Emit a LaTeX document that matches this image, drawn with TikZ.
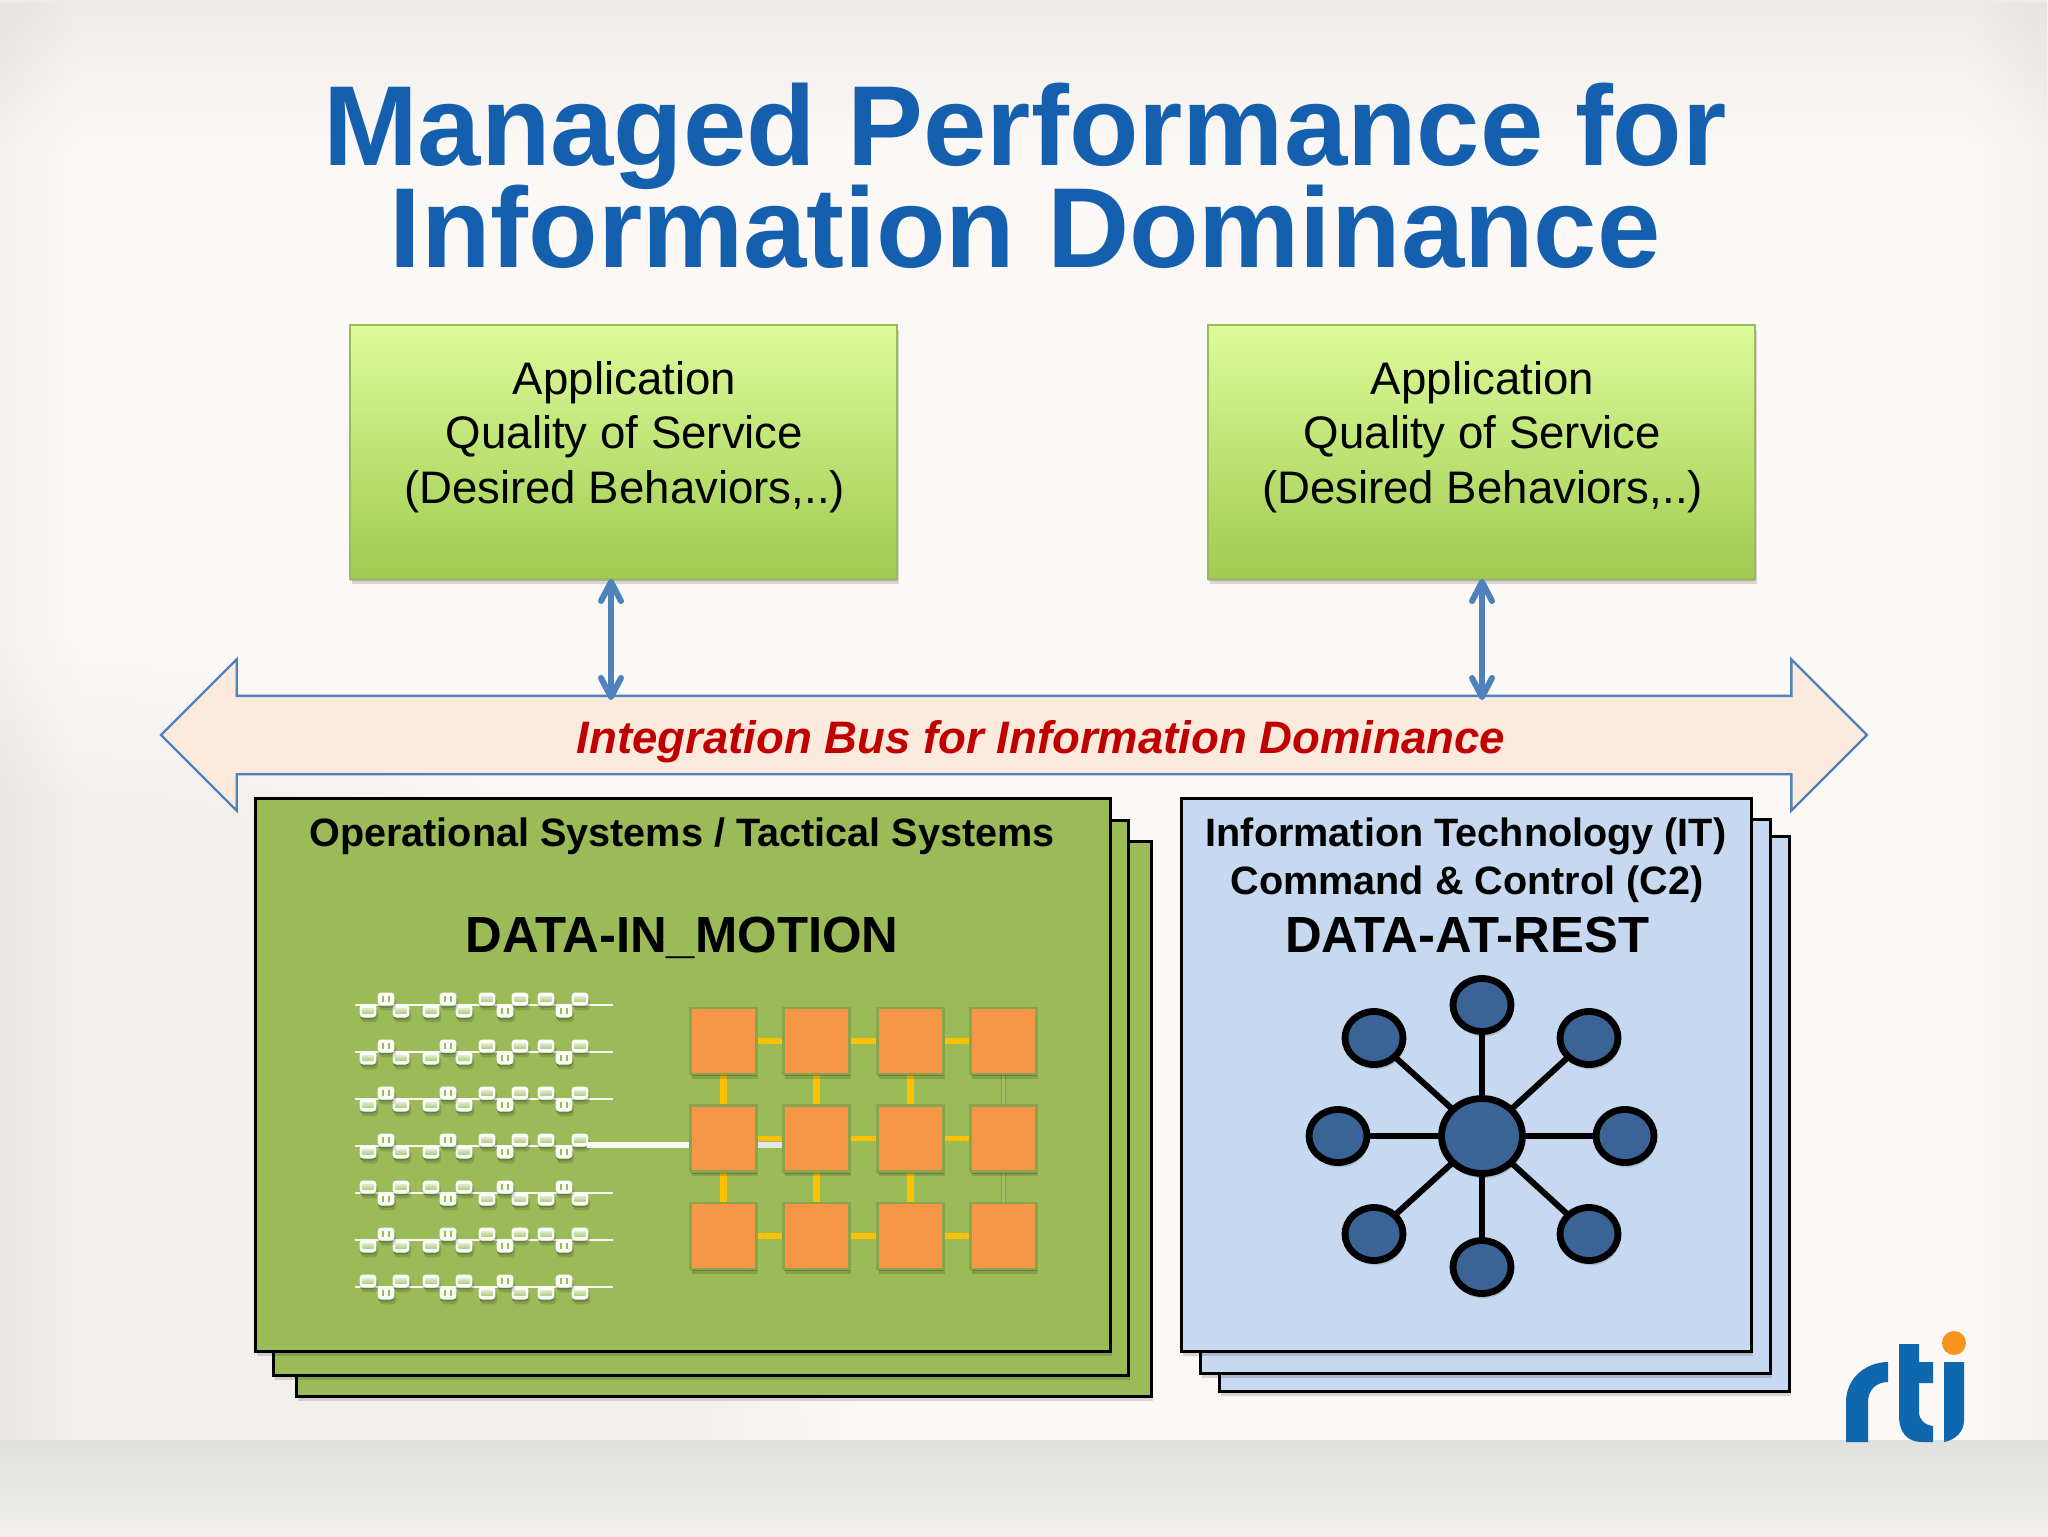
\documentclass[tikz,border=0pt]{standalone}
\usepackage{fontspec}
\setmainfont{Liberation Sans}
\usetikzlibrary{arrows.meta,shapes.arrows,shapes.geometric,shadows,fadings}
\lineskiplimit=-30pt
\definecolor{titleblue}{HTML}{1560AE}
\definecolor{linkblue}{HTML}{4F81BD}
\definecolor{busfill}{HTML}{FCEADC}
\definecolor{busred}{HTML}{C00000}
\definecolor{opgreen}{HTML}{9BBB59}
\definecolor{apptop}{HTML}{DCFB9A}
\definecolor{appbottom}{HTML}{A0CB50}
\definecolor{itblue}{HTML}{C6D9F0}
\definecolor{hubblue}{HTML}{3A6496}
\definecolor{sqorange}{HTML}{F79646}
\definecolor{sqlink}{HTML}{FFC000}
\definecolor{logoblue}{HTML}{0F68AD}
\definecolor{logoorange}{HTML}{F7941E}
\definecolor{paper}{HTML}{FBF8F6}
\definecolor{bandtop}{HTML}{E0E0DC}
\definecolor{bandbottom}{HTML}{F1F0EE}

\begin{document}
\begin{tikzpicture}[x=0.5pt,y=-0.5pt,
	  softshadow/.style={drop shadow={shadow xshift=0pt,shadow yshift=-1pt,opacity=.2,fill=black},
	    drop shadow={shadow xshift=.8pt,shadow yshift=-2.4pt,opacity=.14,fill=black}},
	  updown/.style={{Straight Barb[length=9.5pt,width=10pt,round]}-{Straight Barb[length=9.5pt,width=10pt,round]},draw=linkblue,line width=3pt},
	  every node/.append style={inner sep=0pt,outer sep=0pt}]
	  \tikzstyle{title} = [font=\fontsize{56.9}{51}\selectfont\bfseries,color=titleblue,align=center]
	  \tikzstyle{appbox} = [draw=opgreen,line width=1.4pt,top color=apptop,bottom color=appbottom,minimum width=273.5pt,minimum height=127pt,softshadow]
	  \tikzstyle{apptext} = [font=\fontsize{22.8}{27.25}\selectfont,align=center]
	  \tikzstyle{sheet} = [draw=black,line width=1.5pt,anchor=north west,softshadow]
	  \tikzstyle{opsheet} = [sheet,fill=opgreen,minimum width=427.5pt]
	  \tikzstyle{itsheet} = [sheet,fill=itblue,minimum width=285pt]
	  \tikzstyle{head} = [font=\fontsize{19.8}{24}\selectfont\bfseries,anchor=base]
	  \tikzstyle{big} = [font=\fontsize{25.4}{28}\selectfont\bfseries,anchor=base]
	  \tikzstyle{sq} = [fill=sqorange,draw=black!12!opgreen,line width=1.4pt,minimum width=33pt,minimum height=33pt,softshadow]
	  \tikzstyle{chip} = [fill=white!96!opgreen,rounded corners=1.8pt,minimum width=8.4pt,minimum height=6.5pt,softshadow]
	  \tikzstyle{chipband} = [top color=opgreen!30!white,bottom color=opgreen!80!white,minimum width=5.6pt,minimum height=2.8pt]
	  \tikzstyle{chiptick} = [fill=opgreen,minimum width=1pt,minimum height=3pt]
	  \tikzstyle{hub} = [ellipse,fill=hubblue,draw=black,line width=3.4pt,softshadow]
	  \useasboundingbox (0,0) rectangle (2048,1536);

	  % paper
	  \fill [paper] (0,0) rectangle (2048,1536);
	  \fill [black,opacity=.05,path fading=south] (0,0) rectangle (2048,150);
	  \fill [black,opacity=.03,path fading=east] (0,0) rectangle (80,1536);
	  \fill [black,opacity=.03,path fading=west] (1968,0) rectangle (2048,1536);
	  \fill [black,opacity=.035,path fading=circle with fuzzy edge 20 percent] (60,1440) circle [radius=800];
	  \shade [top color=bandtop,bottom color=bandbottom] (0,1440) rectangle (2048,1536);

	  \node (title_1) [title] at (1025,175.5) {Managed Performance for\\Information Dominance};

	  \node (app_1) [appbox] at (623.5,452) {};
	  \node (app_2) [appbox] at (1481.5,452) {};
	  \node (apptext_1) [apptext] at (624.5,437) {Application\\Quality of Service\\(Desired Behaviors,..)};
	  \node (apptext_2) [apptext] at (1482.5,437) {Application\\Quality of Service\\(Desired Behaviors,..)};

	  \node (bus) [double arrow,draw=linkblue,fill=busfill,line width=1.2pt,minimum height=853pt,minimum width=74.5pt,
	    double arrow head extend=18.25pt,inner ysep=19pt] at (1014,735) {};
	  \node (bustext) [font=\fontsize{22.76}{26}\selectfont\bfseries\itshape,color=busred,anchor=base] at (1041,753) {Integration Bus for Information Dominance};
	  \coordinate (drop_1) at (611,700);
	  \coordinate (drop_2) at (1482,700);
	  \draw [updown] (app_1.south -| drop_1) -- (drop_1);
	  \draw [updown] (app_2.south -| drop_2) -- (drop_2);

	  \node (op_3) [opsheet,minimum height=277.5pt] at (296,841) {};
	  \node (op_2) [opsheet,minimum height=277.5pt] at (273,820) {};
	  \node (op_1) [opsheet,minimum height=276.5pt] at (255,798) {};
	  \node (it_3) [itsheet,minimum height=277.5pt] at (1219,836) {};
	  \node (it_2) [itsheet,minimum height=277pt] at (1200,819) {};
	  \node (it_1) [itsheet,minimum height=276.5pt] at (1181,798) {};

	  \node (ophead) [head] at (682,846) {Operational Systems / Tactical Systems};
	  \node (opdata) [big] at (682,952) {DATA-IN\_MOTION};
	  \node (ithead_1) [head] at (1466,846) {Information Technology (IT)};
	  \node (ithead_2) [head] at (1467,894) {Command \& Control (C2)};
	  \node (itdata) [big] at (1467,952) {DATA-AT-REST};

	  % chip rows
	  \foreach \r/\y/\s in {1/1005/1,2/1052/1,3/1099/1,4/1146/1,5/1193/-1,6/1240/1,7/1287/-1} {
	    \coordinate (rowl_\r) at (354.5,\y);
	    \coordinate (rowr_\r) at (613,\y);
	    \draw [white!92!opgreen,line width=1.2pt] (rowl_\r) -- (rowr_\r);
	    \foreach \x/\d in {368/1,401/1,431/1,464/1,487/-1,520/-1,546/-1,580/-1} {
	      \node (band) [chip] at (\x,\y+6*\s*\d) {};
	      \node [chipband] at (band) {};
	    }
	    \foreach \x/\d in {386/-1,448/-1,505/1,564/1} {
	      \node (tick) [chip] at (\x,\y+6*\s*\d) {};
	      \node [chiptick,xshift=-1.6pt] at (tick) {};
	      \node [chiptick,xshift=1.6pt] at (tick) {};
	    }
	  }

	  % processor grid
	  \foreach \r/\y in {1/1041,2/1138.5,3/1236}
	    \foreach \c/\x in {1/723.5,2/816.5,3/910.5,4/1003.5}
	      \coordinate (pos_\r_\c) at (\x,\y);
	  \foreach \r in {1,2,3}
	    \foreach \c/\n in {1/2,2/3,3/4}
	      \draw [sqlink,line width=2.75pt] (pos_\r_\c) -- (pos_\r_\n);
	  \foreach \c in {1,2,3}
	    \foreach \r/\n in {1/2,2/3}
	      \draw [sqlink,line width=3.2pt] (pos_\r_\c) -- (pos_\n_\c);
	  \draw [draw=black!15!opgreen,line width=.4pt,double=opgreen!90!white,double distance=1.8pt] (pos_1_4) -- (pos_3_4);
	  \coordinate (tap) at (587,1145);
	  \coordinate (tap_2) at (816,1145);
	  \draw [white!80!gray,line width=3pt] (pos_2_1 |- tap) -- (tap_2);
	  \draw [white!95!gray,line width=3pt] (tap) -- (pos_2_1 |- tap);
	  \foreach \r in {1,2,3}
	    \foreach \c in {1,2,3,4}
	      \node (sq_\r_\c) [sq] at (pos_\r_\c) {};

	  % hub and spokes
	  \node (hub_0) [hub,minimum width=40.5pt,minimum height=37.5pt] at (1482,1136) {};
	  \foreach \i/\x/\y in {1/1482/1005,2/1589/1038,3/1625/1136,4/1589/1234,5/1482/1267,6/1374/1234,7/1338/1136,8/1374/1038} {
	    \node (hub_\i) [hub,minimum width=29pt,minimum height=26.5pt] at (\x,\y) {};
	    \draw [black,line width=3pt] (hub_0) -- (hub_\i);
	  }

	  % logo
	  \fill [logoblue] (1846,1442) -- (1846,1402) .. controls (1846,1378) and (1866,1362) .. (1888,1362) -- (1888,1382)
	    .. controls (1876,1382) and (1868,1390) .. (1868,1402) -- (1868,1442) -- cycle;
	  \fill [logoblue] (1899,1344) -- (1919,1344) -- (1919,1362) -- (1933,1362) -- (1933,1383) -- (1919,1383) -- (1919,1412)
	    .. controls (1919,1420) and (1925,1425) .. (1933,1426) -- (1933,1442) -- (1922,1442)
	    .. controls (1907,1442) and (1899,1432) .. (1899,1416) -- cycle;
	  \fill [logoblue] (1944,1362) -- (1964,1362) -- (1964,1420) .. controls (1964,1432) and (1955,1440) .. (1944,1442) -- cycle;
	  \fill [logoorange] (1954,1343) circle [radius=6pt];
	\end{tikzpicture}
\end{document}
